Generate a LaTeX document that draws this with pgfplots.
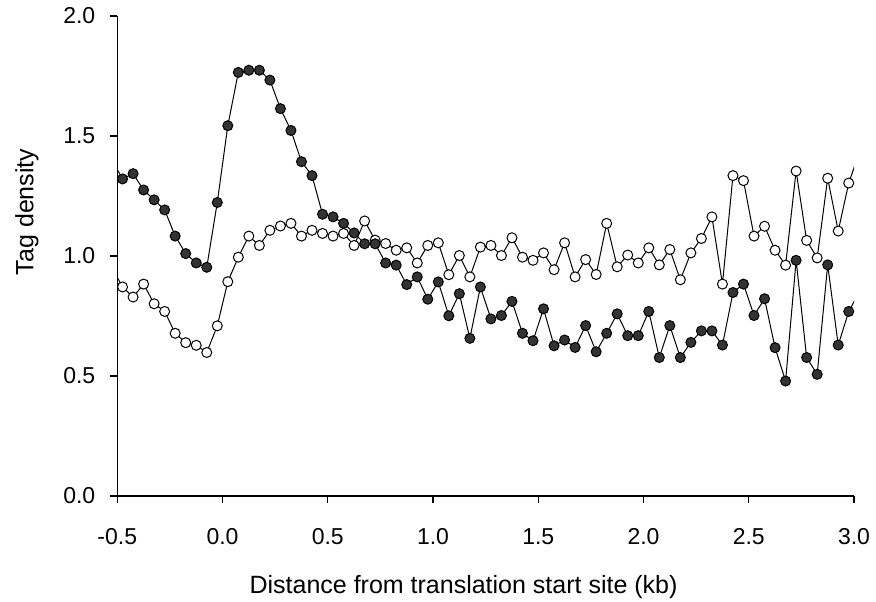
\documentclass[border=0pt]{standalone}
\usepackage{fontspec}
\setmainfont{Liberation Sans}
\usepackage{pgfplots}
\usepackage{pgfplotstable}
\pgfplotsset{compat=1.18}

\pgfplotstableread{
x y
-0.525 1.400
-0.475 1.321
-0.425 1.343
-0.375 1.275
-0.325 1.234
-0.275 1.192
-0.225 1.083
-0.175 1.010
-0.125 0.971
-0.075 0.953
-0.025 1.223
0.025 1.543
0.075 1.765
0.125 1.774
0.175 1.774
0.225 1.733
0.275 1.614
0.325 1.523
0.375 1.393
0.425 1.335
0.475 1.174
0.525 1.163
0.575 1.136
0.625 1.096
0.675 1.051
0.725 1.051
0.775 0.971
0.825 0.962
0.875 0.881
0.925 0.913
0.975 0.820
1.025 0.892
1.075 0.751
1.125 0.843
1.175 0.657
1.225 0.871
1.275 0.738
1.325 0.752
1.375 0.811
1.425 0.678
1.475 0.647
1.525 0.780
1.575 0.626
1.625 0.650
1.675 0.619
1.725 0.710
1.775 0.601
1.825 0.678
1.875 0.759
1.925 0.668
1.975 0.668
2.025 0.769
2.075 0.577
2.125 0.710
2.175 0.577
2.225 0.640
2.275 0.688
2.325 0.688
2.375 0.629
2.425 0.848
2.475 0.883
2.525 0.752
2.575 0.822
2.625 0.618
2.675 0.479
2.725 0.982
2.775 0.577
2.825 0.507
2.875 0.963
2.925 0.629
2.975 0.769
3.025 0.850
}\filled

\pgfplotstableread{
x y
-0.525 0.950
-0.475 0.871
-0.425 0.829
-0.375 0.883
-0.325 0.801
-0.275 0.769
-0.225 0.678
-0.175 0.639
-0.125 0.628
-0.075 0.598
-0.025 0.709
0.025 0.893
0.075 0.995
0.125 1.083
0.175 1.044
0.225 1.107
0.275 1.125
0.325 1.136
0.375 1.083
0.425 1.107
0.475 1.094
0.525 1.083
0.575 1.094
0.625 1.044
0.675 1.146
0.725 1.066
0.775 1.052
0.825 1.024
0.875 1.034
0.925 0.971
0.975 1.044
1.025 1.055
1.075 0.922
1.125 1.002
1.175 0.913
1.225 1.037
1.275 1.044
1.325 1.002
1.375 1.076
1.425 0.995
1.475 0.982
1.525 1.013
1.575 0.943
1.625 1.055
1.675 0.913
1.725 0.985
1.775 0.923
1.825 1.136
1.875 0.955
1.925 1.004
1.975 0.971
2.025 1.034
2.075 0.963
2.125 1.027
2.175 0.901
2.225 1.013
2.275 1.073
2.325 1.163
2.375 0.883
2.425 1.335
2.475 1.314
2.525 1.083
2.575 1.124
2.625 1.024
2.675 0.962
2.725 1.354
2.775 1.065
2.825 0.992
2.875 1.324
2.925 1.104
2.975 1.304
3.025 1.430
}\open

\begin{document}
\begin{tikzpicture}
\begin{axis}[
  scale only axis,
  width=368.35pt, height=240pt,
  xmin=-0.5, xmax=3.0, ymin=0, ymax=2.0,
  axis lines=left,
  axis line style={-, black, line width=0.6pt},
  tick align=outside,
  major tick length=3.5pt,
  tick style={black, line width=0.6pt},
  xtick={-0.5,0,0.5,1,1.5,2,2.5,3},
  ytick={0,0.5,1,1.5,2},
  minor tick num=0,
  font=\fontsize{11.5}{13}\selectfont,
  tick label style={font=\fontsize{11.5}{13}\selectfont},
  /pgf/number format/assume math mode=true,
  /pgf/number format/.cd, fixed, fixed zerofill, precision=1, /pgfplots/.cd,
  xticklabel style={yshift=-9pt, text height=8.23pt, text depth=0pt},
  yticklabel style={xshift=-4pt},
  xlabel={Distance from translation start site (kb)},
  ylabel={Tag density},
  xlabel style={at={(axis description cs:0.47,-0.1504)}, anchor=north, font=\fontsize{12.5}{14}\selectfont},
  ylabel style={at={(axis description cs:-0.0972,0.592)}, rotate=0, anchor=south, font=\fontsize{12.5}{14}\selectfont},
  clip mode=individual,
]
\addplot[black, line width=0.5pt, mark=*, mark size=2.5pt, mark indices={1,...,70},
  mark options={fill=white, draw=black, line width=0.5pt}] table[x=x,y=y] {\open};
\addplot[black, line width=0.5pt, mark=*, mark size=2.5pt, mark indices={1,...,70},
  mark options={fill=black!80, draw=black, line width=0.5pt}] table[x=x,y=y] {\filled};
\coordinate (bl) at (rel axis cs:0,0);
\coordinate (tr) at (rel axis cs:1,1);
\end{axis}
\pgfresetboundingbox
\path[use as bounding box] ([shift={(-58.65pt,-52.5pt)}]bl) rectangle ([shift={(11pt,8pt)}]tr);
\end{tikzpicture}
\end{document}
